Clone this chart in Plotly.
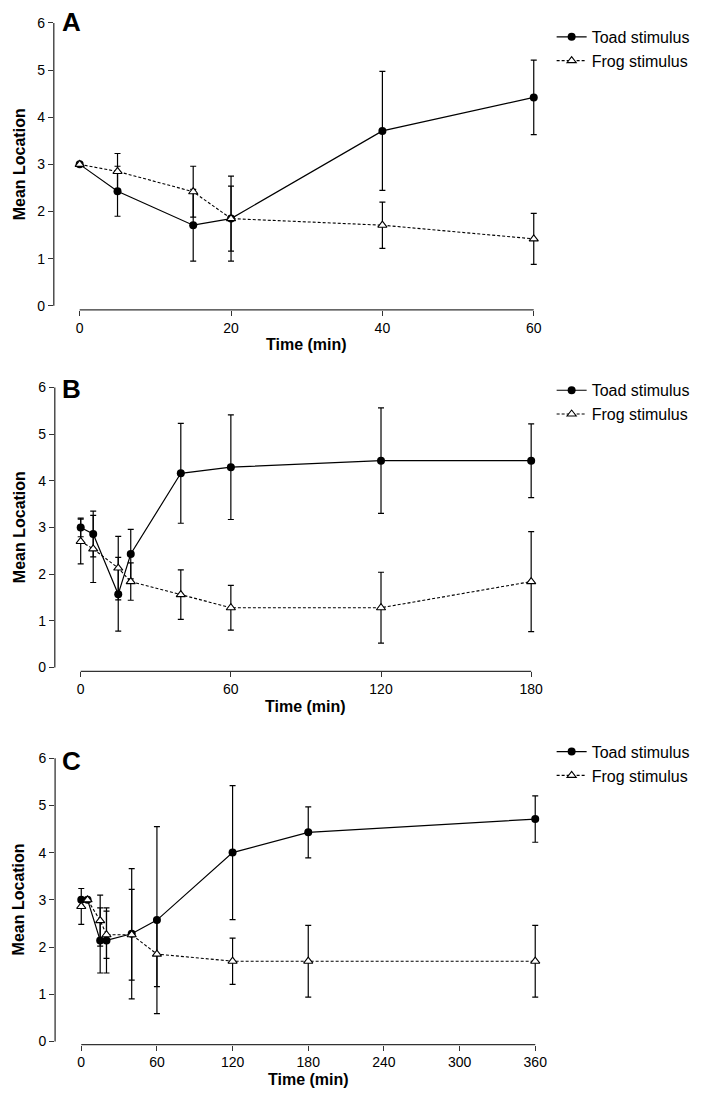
import plotly.graph_objects as go

# panel A
a_time = [0, 5, 15, 20, 40, 60]
a_toad = [3.0, 2.43, 1.71, 1.85, 3.71, 4.42]
a_toad_err = [0, 0.53, 0.76, 0.90, 1.26, 0.79]
a_frog = [3.0, 2.85, 2.42, 1.85, 1.71, 1.42]
a_frog_err = [0, 0.38, 0.54, 0.69, 0.49, 0.54]
a_ticks = [0, 20, 40, 60]

# panel B
b_time = [0, 5, 15, 20, 40, 60, 120, 180]
b_toad = [3.0, 2.86, 1.57, 2.43, 4.16, 4.29, 4.43, 4.43]
b_toad_err = [0.2, 0.49, 0.79, 0.53, 1.07, 1.12, 1.13, 0.79]
b_frog = [2.70, 2.54, 2.13, 1.84, 1.56, 1.28, 1.28, 1.84]
b_frog_err = [0.48, 0.72, 0.68, 0.40, 0.53, 0.48, 0.76, 1.07]
b_ticks = [0, 60, 120, 180]

# panel C
c_time = [0, 5, 15, 20, 40, 60, 120, 180, 360]
c_toad = [3.0, 3.0, 2.14, 2.14, 2.28, 2.57, 4.0, 4.43, 4.71]
c_toad_err = [0, 0, 0.69, 0.69, 1.38, 1.98, 1.42, 0.54, 0.49]
c_frog = [2.86, 3.0, 2.56, 2.26, 2.26, 1.85, 1.70, 1.70, 1.70]
c_frog_err = [0.38, 0, 0.54, 0.50, 0.96, 0.69, 0.49, 0.76, 0.76]
c_ticks = [0, 60, 120, 180, 240, 300, 360]

y_ticks = [0, 1, 2, 3, 4, 5, 6]
series_names = ["Toad stimulus", "Frog stimulus"]
panel_labels = ["A", "B", "C"]

# the page body has an 8px margin, so the figure is drawn 8px in from the top-left
OFF = 8
W, H = 702 - OFF, 1102 - OFF
FONT = "Liberation Sans, Arial, sans-serif"
AXIS_COLOR = "#333333"


def px_x(p):
    return (p - OFF) / W


def px_y(p):
    return 1 - (p - OFF) / H


# screen pixel layout of each panel: left, right, top, bottom edges and x/y ranges
panels = [
    dict(time=a_time, toad=a_toad, toad_err=a_toad_err, frog=a_frog, frog_err=a_frog_err,
         ticks=a_ticks, px=(54, 545, 15, 309), xr=[-3.42, 61.18], yr=[-0.084, 6.105],
         legend_y=17, yc=162.5, label_y=19),
    dict(time=b_time, toad=b_toad, toad_err=b_toad_err, frog=b_frog, frog_err=b_frog_err,
         ticks=b_ticks, px=(55, 545, 382, 673.3), xr=[-10.35, 184.6], yr=[-0.085, 6.11],
         legend_y=373, yc=528, label_y=389),
    dict(time=c_time, toad=c_toad, toad_err=c_toad_err, frog=c_frog, frog_err=c_frog_err,
         ticks=c_ticks, px=(55.3, 546, 755, 1049.3), xr=[-20.75, 366.7], yr=[-0.069, 6.12],
         legend_y=737, yc=903, label_y=764),
]

fig = go.Figure()
annotations = []
shapes = []

for i, p in enumerate(panels):
    n = "" if i == 0 else str(i + 1)
    left, right, top, bottom = p["px"]
    legend_name = "legend" + n

    fig.add_trace(
        go.Scatter(
            x=p["time"], y=p["toad"], name=series_names[0],
            mode="lines+markers",
            line=dict(color="black", width=1.2),
            marker=dict(symbol="circle", size=8, color="black"),
            error_y=dict(type="data", array=p["toad_err"], color="black", thickness=1.2, width=3),
            xaxis="x" + n, yaxis="y" + n, legend=legend_name, cliponaxis=False,
        )
    )
    fig.add_trace(
        go.Scatter(
            x=p["time"], y=p["frog"], name=series_names[1],
            mode="lines+markers",
            line=dict(color="black", width=1.1, dash="3px,2px"),
            marker=dict(symbol="triangle-up", size=8, color="white",
                        line=dict(color="black", width=1.1)),
            error_y=dict(type="data", array=p["frog_err"], color="black", thickness=1.2, width=3),
            xaxis="x" + n, yaxis="y" + n, legend=legend_name, cliponaxis=False,
        )
    )

    axis_common = dict(
        showgrid=False, zeroline=False, showline=False,
        ticks="outside", ticklen=5, tickwidth=1.2, tickcolor=AXIS_COLOR,
        tickfont=dict(family=FONT, size=14, color="black"),
    )
    fig.update_layout(
        **{
            "xaxis" + n: dict(
                domain=[px_x(left), px_x(right)], range=p["xr"], tickvals=p["ticks"],
                anchor="y" + n, **axis_common,
            ),
            "yaxis" + n: dict(
                domain=[px_y(bottom), px_y(top)], range=p["yr"], tickvals=y_ticks,
                anchor="x" + n, **axis_common,
            ),
            legend_name: dict(
                x=px_x(554), y=px_y(p["legend_y"]), xanchor="left", yanchor="top",
                bgcolor="rgba(0,0,0,0)", font=dict(family=FONT, size=16, color="black"),
            ),
        }
    )

    # Prism-style offset axis lines spanning only the tick range
    shapes.append(dict(type="line", xref="x" + n, yref="y" + n + " domain",
                       x0=p["ticks"][0], x1=p["ticks"][-1], y0=0, y1=0,
                       line=dict(color=AXIS_COLOR, width=1.3)))
    shapes.append(dict(type="line", xref="x" + n + " domain", yref="y" + n,
                       x0=0, x1=0, y0=y_ticks[0], y1=y_ticks[-1],
                       line=dict(color=AXIS_COLOR, width=1.3)))

    annotations.append(dict(text="<b>" + panel_labels[i] + "</b>", xref="paper", yref="paper",
                            x=px_x(72), y=px_y(p["label_y"]), xanchor="center", yanchor="middle",
                            showarrow=False, font=dict(family=FONT, size=26, color="black")))
    annotations.append(dict(text="<b>Mean Location</b>", xref="paper", yref="paper",
                            x=px_x(19), y=px_y(p["yc"]), xanchor="center", yanchor="middle",
                            textangle=-90, showarrow=False,
                            font=dict(family=FONT, size=16, color="black")))
    annotations.append(dict(text="<b>Time (min)</b>", xref="x" + n, yref="paper",
                            x=(p["ticks"][0] + p["ticks"][-1]) / 2, y=px_y(bottom + 35),
                            xanchor="center", yanchor="middle", showarrow=False,
                            font=dict(family=FONT, size=16, color="black")))

fig.update_layout(
    width=W, height=H,
    margin=dict(l=0, r=0, t=0, b=0),
    paper_bgcolor="white", plot_bgcolor="white",
    showlegend=True,
    annotations=annotations,
    shapes=shapes,
)

fig.write_html("out.html")
